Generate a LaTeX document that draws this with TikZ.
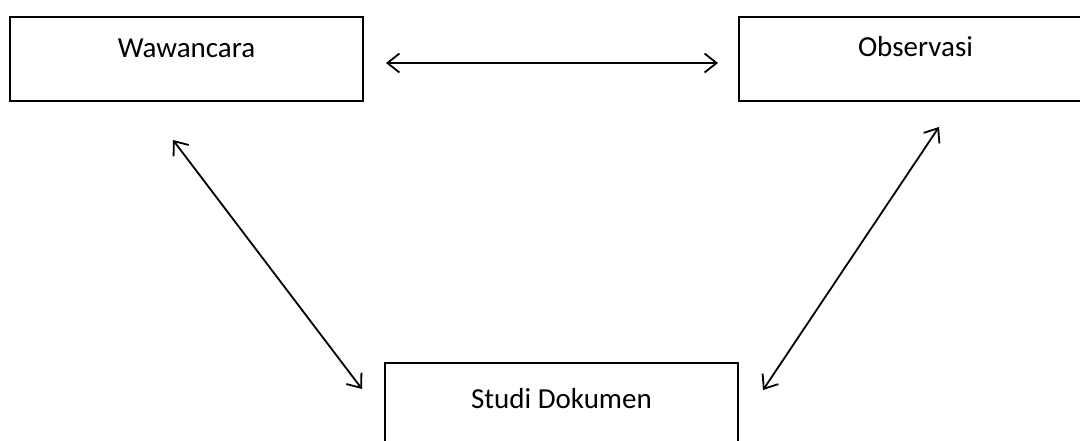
\documentclass[tikz,border=0pt]{standalone}
\usepackage{fontspec}
\setmainfont{Carlito}
\usetikzlibrary{arrows.meta}
\tikzset{
  box/.style={draw=black, line width=2pt, minimum width=353pt, minimum height=84pt, inner sep=0pt, outer sep=0pt},
  lbl/.style={anchor=base, inner sep=0pt, font=\fontsize{29pt}{34pt}\selectfont},
  arr/.style={line width=1.8pt, {Straight Barb[length=12pt,width=19pt]}-{Straight Barb[length=12pt,width=19pt]}}
}
\begin{document}
\begin{tikzpicture}[x=1pt,y=-1pt]
\useasboundingbox (0,0) rectangle (1080,441);
\fill[white] (0,0) rectangle (1080,441);
\clip (0,0) rectangle (1080,441);
\node[box] (waw) at (186.5,59) {};
\node[box] (obs) at (915.5,59) {};
\node[box] (stu) at (561.5,405) {};
\node[lbl] (twaw) at ([yshift=-41pt]waw.north) {Wawancara};
\node[lbl] (tobs) at ([yshift=-40pt]obs.north) {Observasi};
\node[lbl] (tstu) at ([yshift=-45pt]stu.north) {Studi Dokumen};
\draw[arr] ([xshift=23pt,yshift=-4pt]waw.east) -- ([xshift=-21pt,yshift=-4pt]obs.west);
\draw[arr] ([xshift=163pt,yshift=-39pt]waw.south west) -- ([xshift=-23pt,yshift=-26pt]stu.north west);
\draw[arr] ([xshift=200pt,yshift=-26pt]obs.south west) -- ([xshift=25pt,yshift=-27pt]stu.north east);
\end{tikzpicture}
\end{document}
